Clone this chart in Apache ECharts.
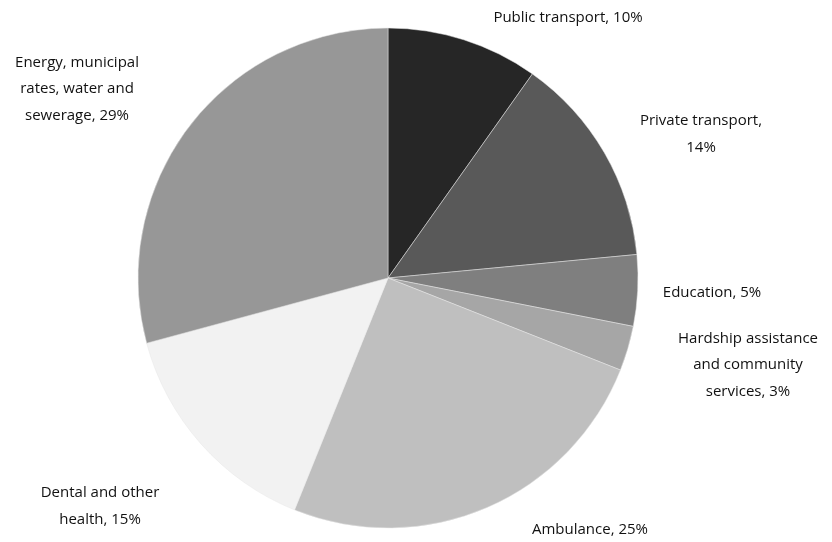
<!DOCTYPE html>
<html>
<head>
<meta charset="utf-8">
<script src="https://cdn.jsdelivr.net/npm/echarts@6/dist/echarts.min.js"></script>
<style>
  html, body { margin: 0; padding: 0; background: #fff; }
  #chart { width: 832px; height: 542px; }
</style>
</head>
<body>
<div id="chart"></div>
<script>
var names = [
    'Public transport',
    'Private transport',
    'Education',
    'Hardship assistance and community services',
    'Ambulance',
    'Dental and other health',
    'Energy, municipal rates, water and sewerage'
];
// label text as wrapped in the picture
var labelText = [
    'Public transport, 10%',
    'Private transport,\n14%',
    'Education, 5%',
    'Hardship assistance\nand community\nservices, 3%',
    'Ambulance, 25%',
    'Dental and other\nhealth, 15%',
    'Energy, municipal\nrates, water and\nsewerage, 29%'
];
var values = [9.8, 13.7, 4.6, 2.9, 25.1, 14.7, 29.2];
var colors = ['#262626', '#595959', '#7f7f7f', '#a6a6a6', '#bfbfbf', '#f2f2f2', '#979797'];

// where each label sits (centre of text block)
var labelPos = [
    [568, 18],
    [701, 134],
    [712, 293],
    [748, 365],
    [590, 530],
    [100, 506],
    [77, 89]
];

var chart = echarts.init(document.getElementById('chart'), null, { renderer: 'canvas' });

var pieData = values.map(function (v, i) {
    return { name: names[i], value: v, itemStyle: { color: colors[i] } };
});

var option = {
    animation: false,
    series: [
        {
            type: 'pie',
            center: [388, 278],
            radius: 250,
            startAngle: 90,
            clockwise: true,
            data: pieData,
            itemStyle: {
                borderColor: '#e6e6e6',
                borderWidth: 0.5
            },
            label: {
                show: true,
                position: 'outside',
                formatter: function (p) { return labelText[p.dataIndex]; },
                fontFamily: 'Open Sans',
                fontSize: 15,
                lineHeight: 26.5,
                color: '#111',
                align: 'center',
                overflow: 'none'
            },
            labelLine: { show: false },
            labelLayout: function (params) {
                var pos = labelPos[params.dataIndex];
                return { x: pos[0], y: pos[1], align: 'center', verticalAlign: 'middle' };
            }
        }
    ]
};

chart.setOption(option);
</script>
</body>
</html>
